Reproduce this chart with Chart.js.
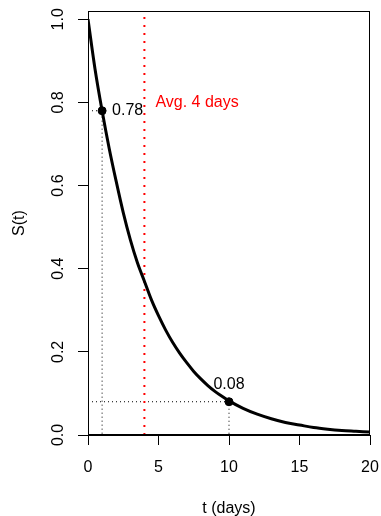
<!DOCTYPE html>
<html>
<head>
<meta charset="utf-8">
<script src="https://cdn.jsdelivr.net/npm/chart.js@4/dist/chart.umd.min.js"></script>
<style>
  html, body { margin: 0; padding: 0; background: #fff; }
  #wrap { width: 381px; height: 516px; }
</style>
</head>
<body>
<div id="wrap"><canvas id="surv"></canvas></div>
<script>
// survival curve, every half day
const days = [0, 0.5, 1, 1.5, 2, 2.5, 3, 3.5, 4, 4.5, 5, 5.5, 6, 6.5, 7, 7.5, 8, 8.5, 9, 9.5,
              10, 11, 12, 13, 14, 15, 16, 17, 18, 19, 20];
const surv = [1.00, 0.88, 0.78, 0.69, 0.61, 0.535, 0.47, 0.415, 0.37, 0.325, 0.287, 0.253,
              0.223, 0.197, 0.174, 0.153, 0.135, 0.119, 0.105, 0.093,
              0.082, 0.064, 0.05, 0.039, 0.03, 0.024, 0.018, 0.014, 0.011, 0.009, 0.007];
// marked points
const markDays = [1, 10];
const markSurv = [0.78, 0.08];
const meanDays = 4;
const meanLabel = 'Avg. 4 days';
const xTicks = [0, 5, 10, 15, 20];
const yTicks = [0, 0.2, 0.4, 0.6, 0.8, 1.0];
const yMax = 1.02;

Chart.defaults.font.family = '"Liberation Sans", Arial, sans-serif';
Chart.defaults.font.size = 16;
Chart.defaults.color = '#000';

const curve = days.map((d, i) => ({x: d, y: surv[i]}));
const marks = markDays.map((d, i) => ({x: d, y: markSurv[i]}));

const guides = markDays.map((d, i) => ({
    data: [{x: 0, y: markSurv[i]}, {x: d, y: markSurv[i]}, {x: d, y: 0}],
    showLine: true,
    borderColor: '#000',
    borderWidth: 1,
    borderDash: [1, 3],
    pointRadius: 0,
    fill: false
}));

const rplot = {
    id: 'rplot',
    afterDraw(chart) {
        const ctx = chart.ctx;
        const a = chart.chartArea;
        const xs = chart.scales.x, ys = chart.scales.y;
        ctx.save();
        // box
        ctx.strokeStyle = '#000';
        ctx.lineWidth = 1;
        ctx.strokeRect(Math.round(a.left) + 0.5, Math.round(a.top) + 0.5,
            Math.round(a.right - a.left) - 1, Math.round(a.bottom - a.top) - 1);
        // rotated y tick labels
        ctx.fillStyle = '#000';
        ctx.font = '16px "Liberation Sans", Arial, sans-serif';
        ctx.textAlign = 'center';
        ctx.textBaseline = 'middle';
        yTicks.forEach(v => {
            ctx.save();
            ctx.translate(59, ys.getPixelForValue(v));
            ctx.rotate(-Math.PI / 2);
            ctx.fillText(v.toFixed(1), 0, 0);
            ctx.restore();
        });
        // point labels
        ctx.textAlign = 'left';
        ctx.fillText(markSurv[0].toFixed(2), xs.getPixelForValue(markDays[0]) + 10, ys.getPixelForValue(markSurv[0]));
        ctx.textAlign = 'center';
        ctx.fillText(markSurv[1].toFixed(2), xs.getPixelForValue(markDays[1]), ys.getPixelForValue(markSurv[1]) - 17);
        // mean label
        ctx.fillStyle = '#ff0000';
        ctx.textAlign = 'left';
        ctx.fillText(meanLabel, xs.getPixelForValue(meanDays) + 11, ys.getPixelForValue(0.8));
        ctx.restore();
    }
};

new Chart(document.getElementById('surv'), {
    type: 'scatter',
    data: {
        datasets: [
            {
                data: marks,
                pointRadius: 4,
                pointBackgroundColor: '#000',
                pointBorderColor: '#000',
                showLine: false
            },
            {
                data: curve,
                showLine: true,
                borderColor: '#000',
                borderWidth: 3,
                pointRadius: 0,
                cubicInterpolationMode: 'monotone',
                fill: false
            },
            {
                data: [{x: meanDays, y: 0}, {x: meanDays, y: yMax}],
                showLine: true,
                borderColor: '#ff0000',
                borderWidth: 2,
                borderDash: [2, 6],
                pointRadius: 0,
                fill: false
            },
            ...guides
        ]
    },
    options: {
        responsive: true,
        maintainAspectRatio: false,
        animation: false,
        layout: { padding: { top: 11, right: 11, left: 0, bottom: 0 } },
        plugins: {
            legend: { display: false },
            tooltip: { enabled: false }
        },
        scales: {
            x: {
                type: 'linear',
                min: 0,
                max: 20,
                afterBuildTicks(s) { s.ticks = xTicks.map(v => ({value: v})); },
                afterFit(s) { s.height = 81; s.paddingLeft = 0; s.paddingRight = 0; },
                ticks: { padding: 13, maxRotation: 0 },
                grid: { drawOnChartArea: false, drawTicks: true, tickLength: 10, color: '#000', tickColor: '#000' },
                border: { display: true, color: '#000', width: 1 },
                title: { display: true, text: 't (days)', padding: { top: 0, bottom: -2 } }
            },
            y: {
                type: 'linear',
                min: 0,
                max: yMax,
                afterBuildTicks(s) { s.ticks = yTicks.map(v => ({value: v})); },
                afterFit(s) { s.width = 88; s.paddingTop = 0; s.paddingBottom = 0; },
                ticks: { display: false },
                grid: { drawOnChartArea: false, drawTicks: true, tickLength: 10, color: '#000', tickColor: '#000' },
                border: { display: true, color: '#000', width: 1 },
                title: { display: true, text: 'S(t)', padding: { top: 10, bottom: 0 } }
            }
        }
    },
    plugins: [rplot]
});
</script>
</body>
</html>
